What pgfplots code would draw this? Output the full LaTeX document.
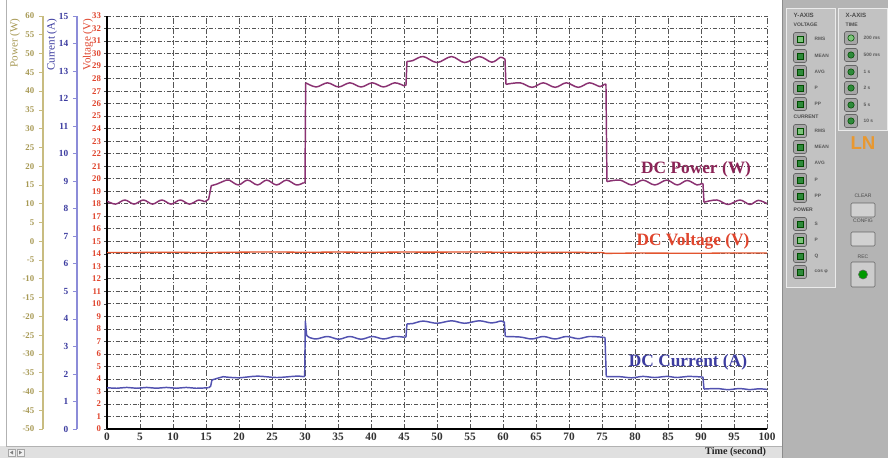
\documentclass[border=0pt]{standalone}
\usepackage{pgfplots}
\pgfplotsset{compat=1.18}
\usepackage{fontspec}
\setmainfont{Liberation Serif}
\newfontfamily\uifont{Liberation Sans}

\definecolor{voltc}{HTML}{E0452D}
\definecolor{voltl}{HTML}{E2542E}
\definecolor{currc}{HTML}{3C3CA0}
\definecolor{currax}{HTML}{8C8CD8}
\definecolor{currl}{HTML}{5252B0}
\definecolor{powc}{HTML}{A89A55}
\definecolor{powax}{HTML}{C8BC80}
\definecolor{powl}{HTML}{8A3272}
\definecolor{powlab}{HTML}{8B2457}
\definecolor{gridc}{HTML}{555555}
\definecolor{panel}{HTML}{B4B4B4}
\definecolor{panelbox}{HTML}{C2C2C2}
\definecolor{ledon}{HTML}{7CC47A}
\definecolor{ledoff}{HTML}{2E8A3A}
\definecolor{logo}{HTML}{E89830}

\pgfplotsset{
  /pgf/number format/assume math mode=true,
  chan/.style={
    scale only axis, width=495pt, height=309.75pt,
    at={(80.25pt,21.75pt)}, anchor=south west,
    xmin=0, xmax=100,
  },
  yscale axis/.style={
    scale only axis, width=0.1pt, height=309.75pt,
    anchor=south west, xmin=0, xmax=1,
    hide x axis, axis y line*=left,
    tick align=outside, major tick length=3pt,
  },
  pline/.style={color=powl, line width=1.1pt, line join=round, mark=none},
  cline/.style={color=currl, line width=1.1pt, line join=round, mark=none},
  vline/.style={color=voltl, line width=1pt, line join=round, mark=none},
}

% push-button with a square or round LED
\newcommand{\sqbtn}[4]{%
  \filldraw[draw=black!60, fill=black!35, rounded corners=1.2pt] (#1-6.5,#2-6.5) rectangle (#1+6.5,#2+6.5);
  \filldraw[draw=black!70!green, fill=#3] (#1-3,#2-3) rectangle (#1+3,#2+3);
  \node[anchor=west, font=\uifont\bfseries\fontsize{3.6}{4}\selectfont, text=black!65] at (#1+10,#2) {#4};}
\newcommand{\rdbtn}[4]{%
  \filldraw[draw=black!60, fill=black!35, rounded corners=1.2pt] (#1-6.5,#2-6.5) rectangle (#1+6.5,#2+6.5);
  \filldraw[draw=black!70!green, fill=#3] (#1,#2) circle[radius=2.4pt];
  \node[anchor=west, font=\uifont\bfseries\fontsize{3.6}{4}\selectfont, text=black!65] at (#1+8,#2) {#4};}

\begin{document}
\begin{tikzpicture}
\useasboundingbox (0,0) rectangle (666pt,343.5pt);

% window background and side panel (pixel coordinates, origin top left)
\begin{scope}[x=0.75pt, y=-0.75pt, shift={(0pt,343.5pt)}]
  \fill[white] (0,0) rectangle (888,458);
  \fill[black!12] (0,446) rectangle (782,458);
  \draw[black!30] (6,0) -- (6,446) -- (782,446);
  \filldraw[fill=black!6, draw=black!35] (8,449) rectangle (15,456);
  \filldraw[fill=black!6, draw=black!35] (17,449) rectangle (24,456);
  \fill[black!50] (13,450.5) -- (10,452.5) -- (13,454.5) -- cycle;
  \fill[black!50] (19,450.5) -- (22,452.5) -- (19,454.5) -- cycle;
  \fill[panel] (782,0) rectangle (888,458);
  \draw[black!45] (782,0) -- (782,458);
\end{scope}

% voltage channel with grid and time axis
\begin{axis}[chan,
  ymin=0, ymax=33,
  axis x line*=bottom, axis y line*=left,
  x axis line style={-, line width=1.5pt, black},
  y axis line style={-, line width=1.5pt, black},
  xtick={0,5,...,100}, ytick={0,1,...,33},
  xmajorgrids, ymajorgrids,
  major x grid style={gridc, line width=0.55pt, dash pattern=on 4pt off 1.5pt on 1pt off 1.5pt},
  major y grid style={gridc, line width=0.55pt, dash pattern=on 3pt off 1.3pt on 0.8pt off 1.3pt},
  tick align=outside, major tick length=2pt,
  xtick style={draw=none},
  ytick style={draw=black!70, line width=0.4pt},
  xticklabel style={font=\fontsize{8.5}{9}\selectfont\bfseries, text=black!80, inner sep=1pt},
  yticklabel style={font=\fontsize{6.6}{7}\selectfont\bfseries, text=voltc, xshift=1pt},
]
\addplot[vline] coordinates {
  (0,14.10) (5,14.11) (10,14.12) (15,14.10) (20,14.13) (25,14.15) (30,14.12)
  (35,14.14) (40,14.12) (45,14.14) (50,14.13) (55,14.15) (60,14.12) (65,14.11)
  (70,14.12) (75,14.10) (75.6,14.03) (80,14.06) (85,14.05) (90,14.04) (95,14.07) (100,14.06)};
\end{axis}

% power channel (W)
\begin{axis}[chan, hide axis, ymin=-50, ymax=60]
\addplot[pline, smooth, tension=0.55] coordinates {
  (0,10.7) (1.3,9.9) (2.7,11.0) (4.1,9.9) (5.5,11.0) (6.9,9.9) (8.3,11.0)
  (9.7,9.9) (11.1,11.0) (12.5,9.9) (13.9,11.0) (14.8,10.5)};
\addplot[pline] coordinates {(14.8,10.5) (15.4,11.2) (15.8,14.8) (16.6,15.2) (17.8,16.1)};
\addplot[pline, smooth, tension=0.55] coordinates {
  (17.8,16.1) (18.5,16.3) (19.9,15.0) (21.3,16.3) (22.8,15.0) (24.2,16.3)
  (25.7,15.0) (27.2,16.3) (28.7,15.0) (29.8,15.6)};
\addplot[pline] coordinates {(29.8,15.6) (30.0,15.6) (30.1,42.2)};
\addplot[pline, smooth, tension=0.55] coordinates {
  (30.1,42.2) (31.7,41.1) (33.4,42.2) (35.1,41.1) (36.8,42.2) (38.5,41.1)
  (40.2,42.2) (41.9,41.1) (43.6,42.2) (45.0,41.4)};
\addplot[pline] coordinates {(45.0,41.4) (45.3,41.6) (45.45,47.9)};
\addplot[pline, smooth, tension=0.55] coordinates {
  (45.45,47.9) (46.3,48.1) (47.9,49.2) (50.0,47.6) (52.2,49.2) (54.2,47.6)
  (56.4,49.2) (58.3,47.7) (59.6,49.0) (60.1,48.7)};
\addplot[pline] coordinates {(60.1,48.7) (60.3,48.5) (60.45,41.8)};
\addplot[pline, smooth, tension=0.55] coordinates {
  (60.45,41.8) (62.6,42.2) (64.4,41.0) (66.1,42.2) (67.9,41.0) (69.6,42.2)
  (71.4,41.0) (73.1,42.2) (74.7,41.2) (75.4,41.9)};
\addplot[pline] coordinates {(75.4,41.9) (75.6,41.8) (75.75,15.9)};
\addplot[pline, smooth, tension=0.55] coordinates {
  (75.75,15.9) (77.7,16.3) (79.5,15.0) (81.2,16.3) (83.0,15.0) (84.8,16.3)
  (86.4,15.0) (87.9,16.2) (89.4,15.0) (90.1,15.4)};
\addplot[pline] coordinates {(90.1,15.4) (90.3,15.3) (90.45,10.4)};
\addplot[pline, smooth, tension=0.55] coordinates {
  (90.45,10.4) (92.4,11.0) (94.1,9.8) (95.9,11.0) (97.4,9.8) (98.7,10.9) (100,10.0)};
\end{axis}

% current channel (A)
\begin{axis}[chan, hide axis, ymin=0, ymax=15]
\addplot[cline, smooth, tension=0.55] coordinates {
  (0,1.50) (1.5,1.48) (3,1.51) (4.5,1.48) (6,1.51) (7.5,1.48) (9,1.51)
  (10.5,1.48) (12,1.51) (13.5,1.48) (15.4,1.50)};
\addplot[cline] coordinates {(15.4,1.50) (15.7,1.55) (15.9,1.78) (16.7,1.84) (17.6,1.90)};
\addplot[cline, smooth, tension=0.55] coordinates {
  (17.6,1.90) (19.9,1.86) (22.8,1.92) (25.7,1.87) (28.7,1.92) (29.8,1.90)};
\addplot[cline] coordinates {(29.8,1.90) (29.95,1.92) (30.05,3.92) (30.25,3.40) (30.6,3.33)};
\addplot[cline, smooth, tension=0.55] coordinates {
  (30.6,3.33) (31.7,3.27) (33.4,3.36) (35.1,3.26) (36.8,3.36) (38.5,3.26)
  (40.2,3.36) (41.9,3.27) (43.6,3.36) (45.1,3.33)};
\addplot[cline] coordinates {(45.1,3.33) (45.3,3.35) (45.45,3.82)};
\addplot[cline, smooth, tension=0.55] coordinates {
  (45.45,3.82) (46.3,3.83) (47.9,3.92) (50.0,3.84) (52.2,3.93) (54.2,3.84)
  (56.4,3.93) (58.3,3.85) (59.6,3.92) (60.0,3.90)};
\addplot[cline] coordinates {(60.0,3.90) (60.2,3.88) (60.35,3.36)};
\addplot[cline, smooth, tension=0.55] coordinates {
  (60.35,3.36) (62.6,3.34) (64.4,3.27) (66.1,3.36) (67.9,3.27) (69.6,3.36)
  (71.4,3.28) (73.1,3.36) (75.2,3.33)};
\addplot[cline] coordinates {(75.2,3.33) (75.45,3.32) (75.65,1.90)};
\addplot[cline, smooth, tension=0.55] coordinates {
  (75.65,1.90) (77.7,1.90) (79.5,1.86) (81.2,1.91) (83.0,1.87) (84.8,1.91)
  (86.4,1.87) (88.0,1.91) (90.1,1.89)};
\addplot[cline] coordinates {(90.1,1.89) (90.3,1.88) (90.45,1.45)};
\addplot[cline, smooth, tension=0.55] coordinates {
  (90.45,1.45) (92.4,1.47) (94.1,1.43) (95.9,1.47) (97.4,1.43) (98.7,1.46) (100,1.44)};
\end{axis}

% power scale
\begin{axis}[yscale axis, at={(32.25pt,21.75pt)},
  ymin=-50, ymax=60, ytick={-50,-45,...,60},
  y axis line style={-, draw=powax, line width=0.9pt},
  ytick style={draw=powax, line width=0.5pt},
  yticklabel style={font=\fontsize{6.6}{7}\selectfont\bfseries, text=powc},
]
\end{axis}

% current scale
\begin{axis}[yscale axis, at={(57.75pt,21.75pt)},
  ymin=0, ymax=15, ytick={0,1,...,15},
  y axis line style={-, draw=currax, line width=0.9pt},
  ytick style={draw=currax, line width=0.5pt},
  yticklabel style={font=\fontsize{7}{8}\selectfont\bfseries, text=currc},
]
\end{axis}

% titles, trace names and control panel
\begin{scope}[x=0.75pt, y=-0.75pt, shift={(0pt,343.5pt)}]
  \node[rotate=90, anchor=east, font=\fontsize{8.3}{9}\selectfont, text=powc] at (15,14) {Power (W)};
  \node[rotate=90, anchor=east, font=\fontsize{8.3}{9}\selectfont, text=currc] at (52,14) {Current (A)};
  \node[rotate=90, anchor=east, font=\fontsize{8.3}{9}\selectfont, text=voltc] at (88,14) {Voltage (V)};
  \node[anchor=east, font=\fontsize{7.6}{8}\selectfont\bfseries, text=black!85, inner sep=0.5pt] at (767,452.5) {Time (second)};

  \node[font=\fontsize{13}{14}\selectfont\bfseries, text=powlab] at (696,169) {DC Power (W)};
  \node[font=\fontsize{13}{14}\selectfont\bfseries, text=voltc] at (693,241) {DC Voltage (V)};
  \node[font=\fontsize{13}{14}\selectfont\bfseries, text=currc] at (688,362) {DC Current (A)};

  % Y-AXIS selector
  \filldraw[fill=panelbox, draw=black!8] (786,8) rectangle (835,287);
  \node[anchor=west, font=\uifont\bfseries\fontsize{4.6}{5}\selectfont, text=black!70] at (789,15) {Y-AXIS};
  \node[anchor=west, font=\uifont\bfseries\fontsize{3.8}{4}\selectfont, text=black!70] at (789,25) {VOLTAGE};
  \sqbtn{800}{39}{ledon}{RMS}
  \sqbtn{800}{56}{ledoff}{MEAN}
  \sqbtn{800}{72}{ledoff}{AVG}
  \sqbtn{800}{88}{ledoff}{P}
  \sqbtn{800}{104}{ledoff}{PP}
  \node[anchor=west, font=\uifont\bfseries\fontsize{3.8}{4}\selectfont, text=black!70] at (789,117) {CURRENT};
  \sqbtn{800}{131}{ledon}{RMS}
  \sqbtn{800}{147}{ledoff}{MEAN}
  \sqbtn{800}{163}{ledoff}{AVG}
  \sqbtn{800}{180}{ledoff}{P}
  \sqbtn{800}{196}{ledoff}{PP}
  \node[anchor=west, font=\uifont\bfseries\fontsize{3.8}{4}\selectfont, text=black!70] at (789,210) {POWER};
  \sqbtn{800}{224}{ledoff}{S}
  \sqbtn{800}{240}{ledon}{P}
  \sqbtn{800}{256}{ledoff}{Q}
  \sqbtn{800}{272}{ledoff}{cos φ}

  % X-AXIS selector
  \filldraw[fill=panelbox, draw=black!8] (838,8) rectangle (887,130);
  \node[anchor=west, font=\uifont\bfseries\fontsize{4.6}{5}\selectfont, text=black!70] at (841,15) {X-AXIS};
  \node[anchor=west, font=\uifont\bfseries\fontsize{3.8}{4}\selectfont, text=black!70] at (841,25) {TIME};
  \rdbtn{851}{38}{ledon}{200 ms}
  \rdbtn{851}{55}{ledoff}{500 ms}
  \rdbtn{851}{72}{ledoff}{1 s}
  \rdbtn{851}{88}{ledoff}{2 s}
  \rdbtn{851}{105}{ledoff}{5 s}
  \rdbtn{851}{121}{ledoff}{10 s}

  \node[font=\uifont\bfseries\fontsize{14}{14}\selectfont, text=logo] at (863,143) {LN};

  \node[font=\uifont\fontsize{3.8}{4}\selectfont, text=black!70] at (863,196) {CLEAR};
  \filldraw[fill=black!18, draw=black!60, rounded corners=1pt] (851,203) rectangle (875,217);
  \node[font=\uifont\fontsize{3.8}{4}\selectfont, text=black!70] at (863,221) {CONFIG};
  \filldraw[fill=black!18, draw=black!60, rounded corners=1pt] (851,232) rectangle (875,246);
  \node[font=\uifont\fontsize{3.8}{4}\selectfont, text=black!70] at (863,257) {REC};
  \filldraw[fill=black!20, draw=black!60, rounded corners=1pt] (851,262) rectangle (875,287);
  \filldraw[fill=green!60!black, draw=black!60] (863,274.5) circle[radius=3.4pt];
\end{scope}
\end{tikzpicture}
\end{document}
